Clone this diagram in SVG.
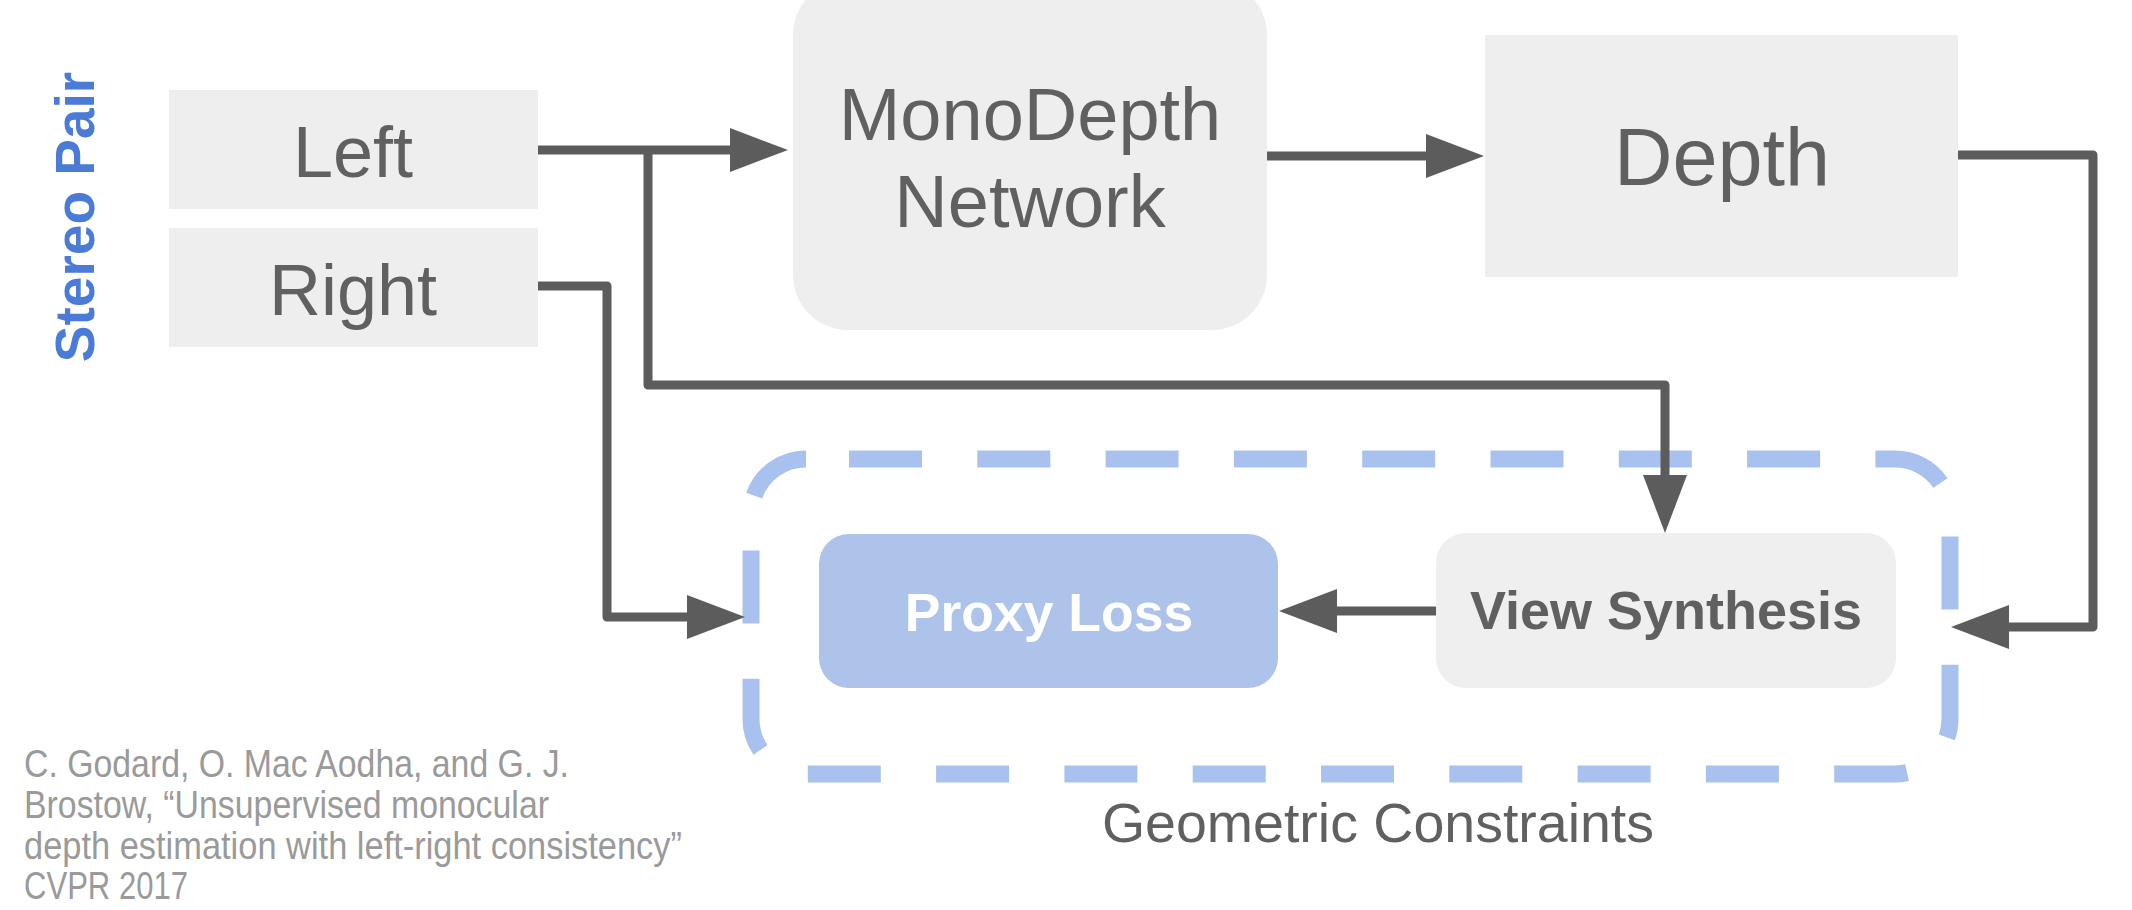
<svg xmlns="http://www.w3.org/2000/svg" width="2132" height="910" viewBox="0 0 2132 910">
<style>
.box{fill:#eeeeee}
.lbl{font-family:"Liberation Sans",Arial,sans-serif;fill:#606060;text-anchor:middle}
.bold{font-weight:bold}
.wire{fill:none;stroke:#5c5c5c;stroke-width:9;stroke-linejoin:round}
.cite{font-family:"Liberation Sans",Arial,sans-serif;fill:#9a9a9a;font-size:38.5px}
</style>
<defs>
<marker id="ah" markerUnits="userSpaceOnUse" markerWidth="58" markerHeight="44" refX="18" refY="22" orient="auto" viewBox="0 0 58 44">
<path d="M0,0 L58,22 L0,44 z" fill="#5c5c5c"/>
</marker>
</defs>
<rect width="2132" height="910" fill="#ffffff"/>

<g id="stereo-pair">
<text class="lbl bold" x="94" y="217" transform="rotate(-90 94 217)" style="fill:#4a7bd6;font-size:55px">Stereo Pair</text>
</g>

<g id="left">
<rect class="box" x="169" y="90" width="369" height="119"/>
<text class="lbl" x="353" y="177" font-size="72">Left</text>
</g>

<g id="right">
<rect class="box" x="169" y="228" width="369" height="119"/>
<text class="lbl" x="353" y="315" font-size="72">Right</text>
</g>

<g id="monodepth">
<rect class="box" x="793" y="-20" width="474" height="350" rx="55"/>
<text class="lbl" x="1030" y="140" font-size="74">MonoDepth</text>
<text class="lbl" x="1030" y="227" font-size="74">Network</text>
</g>

<g id="depth">
<rect class="box" x="1485" y="35" width="473" height="242"/>
<text class="lbl" x="1722" y="185" font-size="81">Depth</text>
</g>

<g id="geometric-constraints">
<rect x="751" y="459" width="1199" height="315" rx="55" fill="none" stroke="#a9c1ee" stroke-width="17" stroke-dasharray="73 55.3" stroke-dashoffset="85.3"/>
<text class="lbl" x="1378" y="842" font-size="55.5">Geometric Constraints</text>
</g>

<g id="proxy-loss">
<rect x="819" y="534" width="459" height="154" rx="30" fill="#aec3ea"/>
<text class="lbl bold" x="1049" y="631" font-size="53.5" style="fill:#ffffff">Proxy Loss</text>
</g>

<g id="view-synthesis">
<rect x="1436" y="533" width="460" height="155" rx="30" fill="#efefef"/>
<text class="lbl bold" x="1666" y="629" font-size="54">View Synthesis</text>
</g>

<g id="connectors">
<path class="wire" d="M538,150 H748" marker-end="url(#ah)"/>
<path class="wire" d="M648,150 V385 H1665 V493" marker-end="url(#ah)"/>
<path class="wire" d="M538,286 H607 V617 H705" marker-end="url(#ah)"/>
<path class="wire" d="M1267,156 H1444" marker-end="url(#ah)"/>
<path class="wire" d="M1958,155 H2093 V627 H1991" marker-end="url(#ah)"/>
<path class="wire" d="M1436,611 H1319" marker-end="url(#ah)"/>
</g>

<g id="citation">
<text class="cite" x="24" y="777" textLength="545" lengthAdjust="spacingAndGlyphs">C. Godard, O. Mac Aodha, and G. J.</text>
<text class="cite" x="24" y="818" textLength="525" lengthAdjust="spacingAndGlyphs">Brostow, “Unsupervised monocular</text>
<text class="cite" x="24" y="859" textLength="658" lengthAdjust="spacingAndGlyphs">depth estimation with left-right consistency”</text>
<text class="cite" x="24" y="899" textLength="164" lengthAdjust="spacingAndGlyphs">CVPR 2017</text>
</g>
</svg>
